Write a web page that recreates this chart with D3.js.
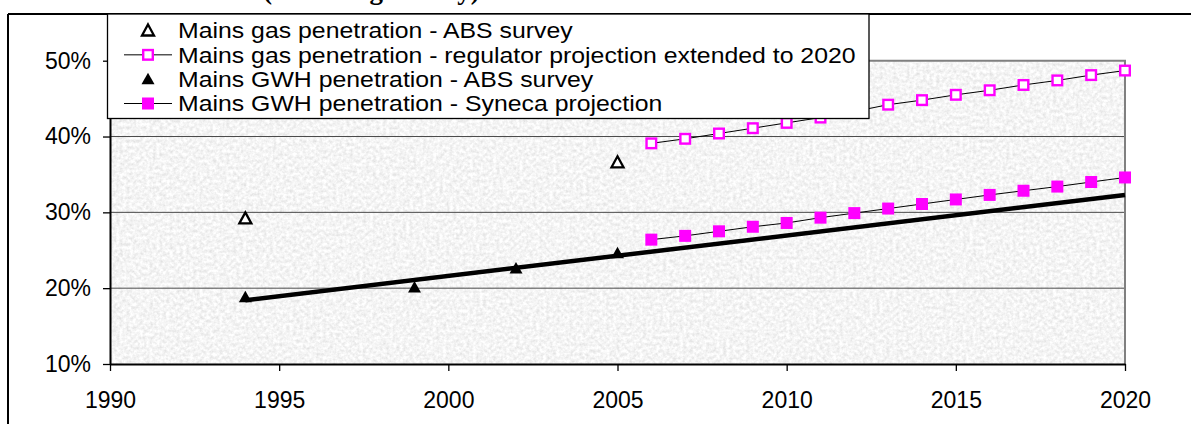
<!DOCTYPE html>
<html>
<head>
<meta charset="utf-8">
<script src="https://cdn.jsdelivr.net/npm/d3@7"></script>
<style>
  html, body { margin: 0; padding: 0; background: #ffffff; overflow: hidden; }
  svg { display: block; }
</style>
</head>
<body>
<svg id="chart" width="1191" height="424"></svg>
<script>
// Mains gas penetration – ABS household survey results (%)
const gasSurveyYears = [1994, 2005];
const gasSurveyValues = [29.2, 36.6];

// Mains gas penetration – regulator projection, extended to 2020 (%)
const gasProjYears = [2006, 2007, 2008, 2009, 2010, 2011, 2012, 2013, 2014, 2015, 2016, 2017, 2018, 2019, 2020];
const gasProjValues = [39.1, 39.7, 40.4, 41.1, 41.8, 42.5, 43.3, 44.2, 44.8, 45.5, 46.1, 46.8, 47.4, 48.1, 48.7];

// Mains gas water heater (GWH) penetration – ABS household survey results (%)
const gwhSurveyYears = [1994, 1999, 2002, 2005];
const gwhSurveyValues = [18.8, 20.1, 22.6, 24.6];

// Linear trend through the GWH survey results, carried through to 2020 (%)
const gwhTrendYears = [1994, 2020];
const gwhTrendValues = [18.4, 32.3];

// Mains GWH penetration – Syneca projection (%)
const gwhProjYears = [2006, 2007, 2008, 2009, 2010, 2011, 2012, 2013, 2014, 2015, 2016, 2017, 2018, 2019, 2020];
const gwhProjValues = [26.4, 26.9, 27.5, 28.1, 28.6, 29.3, 29.9, 30.5, 31.1, 31.7, 32.3, 32.85, 33.4, 34.0, 34.6];

// Axis ticks
const xTicks = [1990, 1995, 2000, 2005, 2010, 2015, 2020];
const yTicks = [10, 20, 30, 40, 50];
const gridValues = [20, 30, 40];

// Legend entries
const legendLabels = [
  "Mains gas penetration - ABS survey",
  "Mains gas penetration - regulator projection extended to 2020",
  "Mains GWH penetration - ABS survey",
  "Mains GWH penetration - Syneca projection"
];
const legendMarkers = ["openTriangle", "openSquare", "solidTriangle", "solidSquare"];
const legendHasLine = [false, true, false, true];

const titleText = "(excluding Albury)";

const MAGENTA = "#ff00ff";
const FONT = "'Liberation Sans', Arial, sans-serif";

const svg = d3.select("#chart");

const plot = { left: 110, right: 1125, top: 60.7, bottom: 364 };

const x = d3.scaleLinear().domain([1990, 2020]).range([plot.left, plot.right]);
const y = d3.scaleLinear().domain([10, 50]).range([plot.bottom, plot.top]);

// ---- granite-like texture for the plot area ----
const defs = svg.append("defs");
const granite = defs.append("filter")
  .attr("id", "granite")
  .attr("x", 0).attr("y", 0).attr("width", 1).attr("height", 1)
  .attr("filterUnits", "objectBoundingBox");
granite.append("feTurbulence")
  .attr("type", "fractalNoise")
  .attr("baseFrequency", 0.3)
  .attr("numOctaves", 3)
  .attr("seed", 11)
  .attr("result", "noise");
granite.append("feColorMatrix")
  .attr("in", "noise")
  .attr("type", "matrix")
  .attr("values", [
    "0.40 0 0 0 0.71",
    "0.40 0 0 0 0.71",
    "0.40 0 0 0 0.71",
    "0 0 0 0 1"
  ].join(" "));

// ---- title (runs above the top edge of the frame) ----
svg.append("text")
  .attr("x", 263)
  .attr("y", -1)
  .attr("font-family", "'Liberation Serif', 'Times New Roman', serif")
  .attr("font-weight", "bold")
  .attr("font-size", 27)
  .attr("fill", "#000")
  .text(titleText);

// ---- chart frame ----
svg.append("line")
  .attr("x1", 8).attr("x2", 1191).attr("y1", 14).attr("y2", 14)
  .attr("stroke", "#000").attr("stroke-width", 2);
svg.append("line")
  .attr("x1", 8).attr("x2", 8).attr("y1", 14).attr("y2", 424)
  .attr("stroke", "#000").attr("stroke-width", 2);

// ---- plot area ----
svg.append("rect")
  .attr("x", plot.left).attr("y", plot.top)
  .attr("width", plot.right - plot.left)
  .attr("height", plot.bottom - plot.top)
  .attr("fill", "#e6e6e6")
  .attr("filter", "url(#granite)");

// gridlines
svg.append("g")
  .selectAll("line")
  .data(gridValues)
  .join("line")
  .attr("x1", plot.left).attr("x2", plot.right)
  .attr("y1", d => y(d)).attr("y2", d => y(d))
  .attr("stroke", "#4a4a4a").attr("stroke-width", 1);

// plot border (top and right)
svg.append("path")
  .attr("d", `M${plot.left},${plot.top}H${plot.right}V${plot.bottom}`)
  .attr("fill", "none")
  .attr("stroke", "#808080")
  .attr("stroke-width", 2);

// ---- series ----
const lineGen = d3.line().x(d => x(d[0])).y(d => y(d[1]));

// GWH survey trend
svg.append("path")
  .datum(d3.zip(gwhTrendYears, gwhTrendValues))
  .attr("d", lineGen)
  .attr("fill", "none")
  .attr("stroke", "#000")
  .attr("stroke-width", 4.5)
  .attr("stroke-linecap", "butt");

// projection connecting lines
svg.append("path")
  .datum(d3.zip(gasProjYears, gasProjValues))
  .attr("d", lineGen)
  .attr("fill", "none")
  .attr("stroke", "#000")
  .attr("stroke-width", 1);
svg.append("path")
  .datum(d3.zip(gwhProjYears, gwhProjValues))
  .attr("d", lineGen)
  .attr("fill", "none")
  .attr("stroke", "#000")
  .attr("stroke-width", 1);

// marker drawing
function drawMarker(g, kind, cx, cy) {
  if (kind === "openTriangle") {
    g.append("path")
      .attr("d", `M${cx},${cy - 6}L${cx + 6},${cy + 5}L${cx - 6},${cy + 5}Z`)
      .attr("fill", "#ffffff")
      .attr("stroke", "#000").attr("stroke-width", 2.3)
      .attr("stroke-linejoin", "miter");
  } else if (kind === "solidTriangle") {
    g.append("path")
      .attr("d", `M${cx},${cy - 6.5}L${cx + 6.5},${cy + 5}L${cx - 6.5},${cy + 5}Z`)
      .attr("fill", "#000");
  } else if (kind === "openSquare") {
    g.append("rect")
      .attr("x", cx - 4.8).attr("y", cy - 4.8)
      .attr("width", 9.6).attr("height", 9.6)
      .attr("fill", "#ffffff")
      .attr("stroke", MAGENTA).attr("stroke-width", 2.4);
  } else if (kind === "solidSquare") {
    g.append("rect")
      .attr("x", cx - 6).attr("y", cy - 6)
      .attr("width", 12).attr("height", 12)
      .attr("fill", MAGENTA);
  }
}

const markers = svg.append("g");
gasProjYears.forEach((yr, i) => drawMarker(markers, "openSquare", x(yr), y(gasProjValues[i])));
gwhProjYears.forEach((yr, i) => drawMarker(markers, "solidSquare", x(yr), y(gwhProjValues[i])));
gasSurveyYears.forEach((yr, i) => drawMarker(markers, "openTriangle", x(yr), y(gasSurveyValues[i])));
gwhSurveyYears.forEach((yr, i) => drawMarker(markers, "solidTriangle", x(yr), y(gwhSurveyValues[i])));

// ---- axes ----
const yAxis = d3.axisLeft(y)
  .tickValues(yTicks)
  .tickFormat(d => d + "%")
  .tickSize(7)
  .tickSizeOuter(0)
  .tickPadding(12);
const yg = svg.append("g")
  .attr("transform", `translate(${plot.left},0)`)
  .call(yAxis);

const xAxis = d3.axisBottom(x)
  .tickValues(xTicks)
  .tickFormat(d3.format("d"))
  .tickSize(7)
  .tickSizeOuter(0)
  .tickPadding(21);
const xg = svg.append("g")
  .attr("transform", `translate(0,${plot.bottom})`)
  .call(xAxis);

[yg, xg].forEach(g => {
  g.select(".domain").attr("stroke", "#000").attr("stroke-width", 2);
  g.selectAll(".tick line").attr("stroke", "#000").attr("stroke-width", 1.3);
  g.selectAll(".tick text")
    .attr("fill", "#000")
    .attr("font-family", FONT)
    .attr("font-size", 23);
});

// ---- legend ----
const legend = { left: 107.5, top: 14, right: 869, bottom: 118.5 };
const lg = svg.append("g");
lg.append("rect")
  .attr("x", legend.left).attr("y", legend.top)
  .attr("width", legend.right - legend.left)
  .attr("height", legend.bottom - legend.top)
  .attr("fill", "#ffffff")
  .attr("stroke", "#000").attr("stroke-width", 1.3);

const rowY = d3.scaleLinear().domain([0, 3]).range([30.5, 103.5]);
const legendSwatchX = 148;
const legendTextX = 178;

legendLabels.forEach((label, i) => {
  const cy = rowY(i);
  if (legendHasLine[i]) {
    lg.append("line")
      .attr("x1", 124).attr("x2", 172)
      .attr("y1", cy).attr("y2", cy)
      .attr("stroke", "#000").attr("stroke-width", 1);
  }
  drawMarker(lg, legendMarkers[i], legendSwatchX, cy);
  lg.append("text")
    .attr("transform", `translate(${legendTextX},${cy + 7.8}) scale(1.155,1)`)
    .attr("font-family", FONT)
    .attr("font-size", 21.5)
    .attr("fill", "#000")
    .text(label);
});
</script>
</body>
</html>
